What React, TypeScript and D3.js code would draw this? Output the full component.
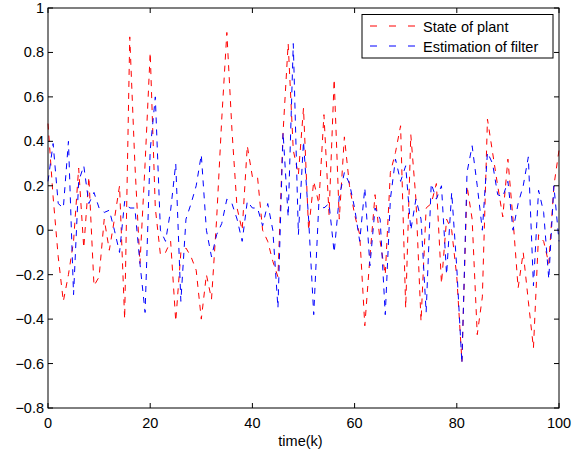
import { useEffect, useRef } from "react";
import * as d3 from "d3";

// state of plant (red) and estimation of filter (blue), k = 0..100
const plantState = [
  0.48, 0.15, -0.12, -0.32, -0.2, -0.05, 0.28, -0.08, 0.24, -0.25,
  -0.21, 0.05, -0.09, 0.05, 0.2, -0.4, 0.87, 0.3, -0.15, 0.3,
  0.8, 0.1, -0.11, -0.1, -0.05, -0.41, -0.1, -0.08, -0.12, -0.18,
  -0.4, -0.2, -0.31, 0.05, 0.5, 0.89, 0.45, 0.1, 0.0, 0.38,
  0.24, 0.24, 0.0, -0.05, -0.14, -0.21, 0.44, 0.84, 0.36, 0.25,
  0.55, 0.0, 0.22, 0.12, 0.52, 0.07, 0.68, 0.05, 0.42, 0.2,
  0.07, -0.02, -0.43, -0.12, 0.16, -0.05, -0.2, 0.26, 0.35, 0.47,
  -0.35, 0.43, 0.14, -0.41, 0.1, 0.12, 0.21, -0.24, 0.05, 0.0,
  -0.21, -0.59, 0.2, 0.05, -0.47, -0.3, 0.5, 0.35, 0.2, 0.06,
  0.32, 0.05, -0.26, -0.1, -0.32, -0.53, -0.02, -0.05, -0.15, 0.2,
  0.36,
];

const filterEstimate = [
  0.22, 0.39, 0.12, 0.1, 0.4, -0.29, 0.22, 0.29, 0.12, 0.17,
  0.1, 0.08, 0.09, 0.0, -0.1, 0.13, 0.1, 0.1, -0.15, -0.37,
  0.36, 0.6, 0.0, -0.05, 0.09, 0.3, -0.32, 0.05, 0.12, 0.2,
  0.34, 0.0, -0.12, -0.02, 0.03, 0.14, 0.12, 0.05, -0.05, 0.13,
  0.1, 0.1, 0.02, 0.12, 0.0, -0.35, 0.44, 0.06, 0.84, -0.02,
  0.4, 0.05, -0.38, 0.12, 0.1, 0.12, -0.1, 0.15, 0.26, 0.21,
  0.1, -0.05, 0.19, -0.16, 0.1, 0.05, -0.38, 0.14, 0.32, 0.22,
  0.29, 0.0, 0.14, 0.05, -0.37, 0.21, 0.14, 0.2, -0.2, 0.17,
  -0.17, -0.6, 0.26, 0.38, 0.2, 0.0, 0.35, 0.3, 0.16, 0.15,
  0.22, 0.0, 0.12, 0.2, 0.33, -0.25, 0.18, 0.08, -0.22, 0.2,
  -0.05,
];

const xTicks = [0, 20, 40, 60, 80, 100];
const yTicks = [-0.8, -0.6, -0.4, -0.2, 0, 0.2, 0.4, 0.6, 0.8, 1];

const series = [
  { name: "State of plant", values: plantState, color: "#ff0000" },
  { name: "Estimation of filter", values: filterEstimate, color: "#0000ff" },
];

const W = 583;
const H = 457;
const margin = { top: 8, right: 24, bottom: 49, left: 48 };
const font = "'Liberation Sans', Arial, Helvetica, sans-serif";
const fontSize = 14.5;

const fmt = (v: number) => {
  if (Math.abs(v) < 1e-9) return "0";
  const s = String(+v.toFixed(1));
  return s.replace("-", "\u2212");
};

export default function App() {
  const svgRef = useRef<SVGSVGElement>(null);

  useEffect(() => {
    const svg = d3.select(svgRef.current);
    svg.selectAll("*").remove();

    const iw = W - margin.left - margin.right;
    const ih = H - margin.top - margin.bottom;

    const x = d3.scaleLinear().domain([0, 100]).range([margin.left, margin.left + iw]);
    const y = d3.scaleLinear().domain([-0.8, 1]).range([margin.top + ih, margin.top]);

    svg.append("rect")
      .attr("width", W).attr("height", H).attr("fill", "#fff");

    // lines
    const line = d3.line<number>()
      .x((_, i) => x(i))
      .y((d) => y(d));

    series.forEach((s) => {
      svg.append("path")
        .datum(s.values)
        .attr("d", line)
        .attr("fill", "none")
        .attr("stroke", s.color)
        .attr("stroke-width", 1)
        .attr("stroke-dasharray", "6,6");
    });

    // frame
    svg.append("rect")
      .attr("x", margin.left).attr("y", margin.top)
      .attr("width", iw).attr("height", ih)
      .attr("fill", "none").attr("stroke", "#000").attr("stroke-width", 1);

    const tl = 5;
    const g = svg.append("g").attr("stroke", "#000").attr("stroke-width", 1);

    // ticks on all sides, pointing inward
    xTicks.forEach((t) => {
      const px = x(t);
      g.append("line").attr("x1", px).attr("x2", px)
        .attr("y1", margin.top + ih).attr("y2", margin.top + ih - tl);
      g.append("line").attr("x1", px).attr("x2", px)
        .attr("y1", margin.top).attr("y2", margin.top + tl);
    });
    yTicks.forEach((t) => {
      const py = y(t);
      g.append("line").attr("x1", margin.left).attr("x2", margin.left + tl)
        .attr("y1", py).attr("y2", py);
      g.append("line").attr("x1", margin.left + iw).attr("x2", margin.left + iw - tl)
        .attr("y1", py).attr("y2", py);
    });

    // tick labels
    svg.append("g").selectAll("text")
      .data(xTicks).enter().append("text")
      .attr("x", (d) => x(d))
      .attr("y", margin.top + ih + 20)
      .attr("text-anchor", "middle")
      .attr("font-family", font).attr("font-size", fontSize)
      .text((d) => fmt(d));

    svg.append("g").selectAll("text")
      .data(yTicks).enter().append("text")
      .attr("x", margin.left - 4)
      .attr("y", (d) => y(d) + 5)
      .attr("text-anchor", "end")
      .attr("font-family", font).attr("font-size", fontSize)
      .text((d) => fmt(d));

    svg.append("text")
      .attr("x", x(50) - 3).attr("y", 446)
      .attr("text-anchor", "middle")
      .attr("font-family", font).attr("font-size", fontSize)
      .text("time(k)");

    // legend
    const lg = svg.append("g");
    lg.append("rect")
      .attr("x", 362).attr("y", 14.5).attr("width", 191).attr("height", 43.5)
      .attr("fill", "#fff").attr("stroke", "#000").attr("stroke-width", 1);
    series.forEach((s, i) => {
      const cy = 26 + i * 20;
      lg.append("line")
        .attr("x1", 370).attr("x2", 416).attr("y1", cy).attr("y2", cy)
        .attr("stroke", s.color).attr("stroke-width", 1)
        .attr("stroke-dasharray", "7,12");
      lg.append("text")
        .attr("x", 423).attr("y", cy + 5.5)
        .attr("font-family", font).attr("font-size", fontSize)
        .text(s.name);
    });
  }, []);

  return (
    <svg
      ref={svgRef}
      width={W}
      height={H}
      style={{ position: "absolute", left: 0, top: 0, display: "block" }}
    />
  );
}
